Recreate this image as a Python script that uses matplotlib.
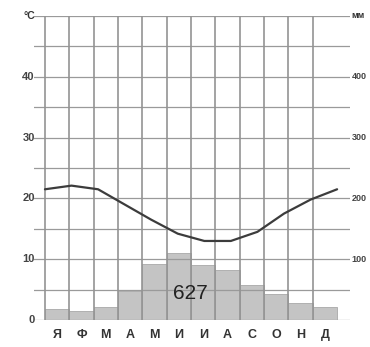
import numpy as np
import matplotlib
matplotlib.use("Agg")
import matplotlib.pyplot as plt

months = ["Я", "Ф", "М", "А", "М", "И", "И", "А", "С", "О", "Н", "Д"]
temperature = [21.5, 22.1, 21.5, 19.0, 16.5, 14.2, 13.0, 13.0, 14.5, 17.5, 19.8, 21.5]
precipitation = [18, 15, 22, 47, 92, 110, 90, 83, 58, 42, 28, 22]
total_precip = 627
temp_ticks = [0, 10, 20, 30, 40]
precip_ticks = [100, 200, 300, 400]

plt.rcParams['font.family'] = ['Liberation Sans', 'DejaVu Sans']

fig = plt.figure(figsize=(3.70, 3.47), dpi=100)
ax = fig.add_axes([34 / 370, 27 / 347, 316 / 370, 304 / 347])
ax.set_xlim(-0.95, 12.03)
ax.set_ylim(0, 50)
ax.axis("off")

x = np.arange(len(months))

# осадки: 10 мм = 1 градус
ax.bar(x, np.array(precipitation) / 10, width=1.0, color="#c4c4c4",
       edgecolor="#a8a8a8", linewidth=0.6, zorder=1)

# сетка
for y in range(0, 51, 5):
    ax.axhline(y, color="#9a9a9a", lw=0.9, zorder=2)
for b in np.arange(-0.5, 11, 1):
    ax.plot([b, b], [0, 50], color="#939393", lw=1.2, zorder=2)

# температура
xt = np.linspace(-0.5, 11.5, len(temperature))
ax.plot(xt, temperature, color="#3c3c3c", lw=1.6, zorder=3,
        solid_capstyle="round", solid_joinstyle="round")

ax.text(5.46, 4.3, str(total_precip), ha="center", va="center",
        fontsize=15, color="#222222", zorder=4)

for t in temp_ticks:
    ax.text(-0.92, t, str(t), ha="right", va="center", fontsize=8,
            color="#444444", fontweight="bold", clip_on=False)
ax.text(-0.92, 50, "°C", ha="right", va="center", fontsize=7.5,
        color="#333333", fontweight="bold", clip_on=False)
for p in precip_ticks:
    ax.text(12.1, p / 10, str(p), ha="left", va="center", fontsize=6.5,
            color="#444444", fontweight="bold", clip_on=False)
ax.text(12.1, 50, "мм", ha="left", va="center", fontsize=6.5,
        color="#333333", fontweight="bold", clip_on=False)

for i, m in enumerate(months):
    ax.text(i, -2.5, m, ha="center", va="center", fontsize=9,
            color="#333333", fontweight="bold", clip_on=False)

fig.savefig("out.png", dpi=100)
